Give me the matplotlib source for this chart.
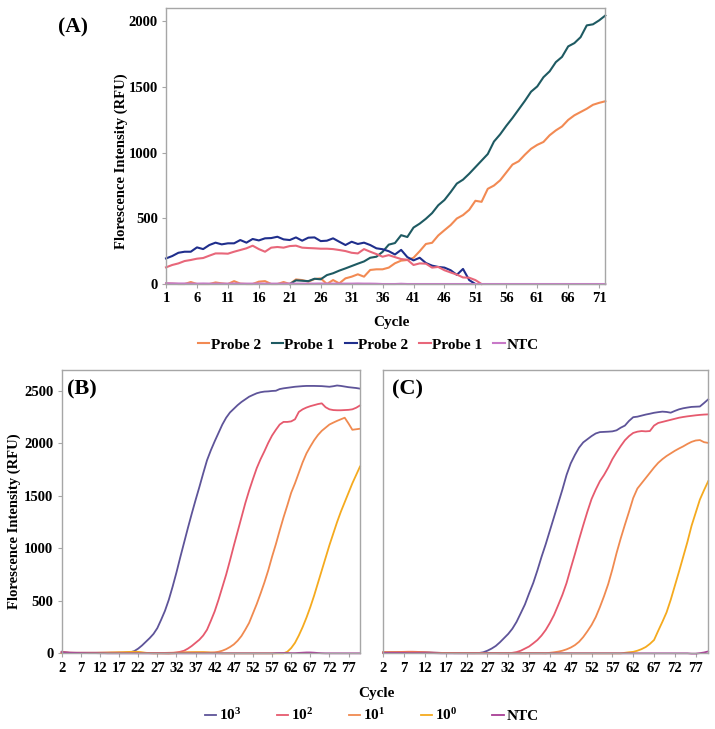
import matplotlib
matplotlib.use("Agg")
import matplotlib.pyplot as plt
import numpy as np

plt.rcParams['font.family'] = ['Liberation Serif', 'DejaVu Serif']
plt.rcParams['font.weight'] = 'bold'
plt.rcParams['mathtext.default'] = 'regular'

# ---------------- panel A data ----------------
cycles_a = np.arange(1, 73)
probe2_orange = [5, 3, 0, 0, 15, 0, 0, 0, 12, 5,
                 0, 22, 3, 0, 0, 18, 22, 0, 0, 15,
                 0, 35, 30, 18, 38, 43, 0, 30, 5, 43,
                 56, 74, 56, 107, 112, 112, 125, 158, 178, 183,
                 200, 250, 305, 314, 370, 410, 449, 499, 525, 565,
                 634, 626, 725, 750, 790, 850, 910, 935, 985, 1030,
                 1060, 1082, 1133, 1170, 1200, 1250, 1285, 1310, 1335, 1365,
                 1380, 1392]
cycles_teal = np.arange(21, 73)
probe1_teal = [0, 28, 25, 22, 40, 36, 68, 82, 102, 119,
               137, 155, 172, 200, 208, 245, 300, 312, 372, 358,
               430, 460, 497, 540, 600, 640, 700, 765, 795, 840,
               890, 940, 990, 1085, 1140, 1205, 1265, 1330, 1395, 1465,
               1505, 1575, 1620, 1690, 1730, 1810, 1835, 1880, 1970, 1978,
               2008, 2045]
cycles_navy = np.arange(1, 52)
probe2_navy = [195, 213, 238, 246, 246, 279, 266, 297, 315, 302,
               310, 310, 335, 315, 343, 332, 348, 350, 360, 340,
               335, 355, 330, 353, 355, 327, 330, 348, 322, 297,
               322, 305, 315, 297, 272, 265, 250, 225, 260, 205,
               180, 200, 160, 140, 130, 125, 105, 70, 115, 30,
               0]
cycles_salmon = np.arange(1, 53)
probe1_salmon = [127, 145, 157, 175, 183, 193, 198, 216, 233, 233,
                 231, 246, 259, 272, 292, 266, 246, 277, 282, 277,
                 289, 292, 277, 274, 272, 269, 269, 266, 259, 251,
                 238, 233, 266, 246, 228, 208, 220, 205, 190, 185,
                 145, 157, 155, 125, 130, 105, 88, 72, 50, 48,
                 30, 0]
ntc_a = [6, 5, 4, 4, 3, 3, 4, 3, 3, 3,
         3, 4, 3, 3, 3, 4, 3, 3, 3, 3,
         4, 3, 3, 3, 3, 4, 3, 3, 3, 3,
         3, 4, 3, 3, 2, 0, 0, 0, 2, 0,
         0, 0, 0, 0, 0, 0, 0, 0, 0, 0,
         0, 0, 0, 0, 0, 0, 0, 0, 0, 0,
         0, 0, 0, 0, 0, 0, 0, 0, 0, 0,
         0, 0]
labels_a = ['Probe 2', 'Probe 1', 'Probe 2', 'Probe 1', 'NTC']
xticks_a = np.arange(1, 72, 5)

# ---------------- panels B and C data (cycles 2..80) ----------------
cycles_bc = np.arange(2, 81)
b_1e3 = [15, 8, 5, 5, 5, 5, 5, 5, 5, 5,
         5, 5, 5, 5, 5, 5, 5, 6, 10, 22,
         45, 75, 110, 145, 185, 240, 320, 405, 510, 635,
         770, 915, 1055, 1195, 1330, 1460, 1585, 1715, 1840, 1935,
         2020, 2100, 2180, 2245, 2295, 2330, 2365, 2395, 2420, 2445,
         2462, 2478, 2488, 2494, 2496, 2500, 2502, 2518, 2525, 2530,
         2535, 2540, 2543, 2546, 2548, 2548, 2548, 2547, 2546, 2543,
         2540, 2545, 2552, 2548, 2542, 2536, 2532, 2528, 2522]
b_1e2 = [12, 8, 6, 5, 5, 5, 5, 5, 5, 5,
         5, 5, 5, 5, 5, 5, 5, 5, 5, 5,
         5, 4, 4, 3, 3, 3, 2, 1, 0, 3,
         8, 15, 25, 45, 70, 100, 130, 170, 225, 310,
         400, 510, 630, 750, 885, 1025, 1160, 1295, 1430, 1550,
         1660, 1765, 1850, 1925, 2005, 2075, 2130, 2180, 2205, 2205,
         2210, 2230, 2300, 2325, 2342, 2355, 2365, 2375, 2382, 2345,
         2325, 2318, 2316, 2316, 2318, 2320, 2325, 2340, 2362]
b_1e1 = [8, 6, 5, 5, 5, 5, 5, 5, 5, 5,
         5, 6, 6, 7, 7, 8, 8, 8, 8, 8,
         6, 4, 3, 2, 2, 2, 3, 4, 5, 6,
         7, 8, 9, 10, 10, 10, 10, 10, 9, 8,
         10, 15, 25, 40, 60, 85, 120, 165, 225, 290,
         380, 470, 570, 675, 790, 920, 1040, 1170, 1295, 1410,
         1530, 1620, 1720, 1820, 1905, 1970, 2030, 2080, 2120, 2150,
         2180, 2198, 2215, 2230, 2245, 2190, 2130, 2135, 2140]
b_1e0 = [5, 5, 4, 4, 4, 4, 4, 4, 4, 4,
         5, 5, 6, 7, 8, 9, 10, 12, 14, 15,
         14, 10, 5, 2, 0, 0, 0, 0, 0, 0,
         2, 4, 6, 8, 9, 10, 10, 10, 8, 6,
         4, 2, 0, 0, 0, 0, 0, 0, 0, 0,
         0, 0, 0, 0, 0, 0, 0, 0, 0, 15,
         50, 100, 170, 250, 340, 440, 550, 670, 790, 910,
         1030, 1140, 1250, 1350, 1440, 1530, 1620, 1700, 1780]
b_ntc = [10, 8, 6, 5, 4, 3, 3, 2, 2, 2,
         1, 1, 0, 0, 0, 0, 0, 0, 0, 0,
         0, 0, 0, 0, 0, 0, 0, 0, 0, 0,
         0, 0, 0, 0, 0, 0, 0, 0, 0, 0,
         0, 0, 0, 0, 0, 0, 0, 0, 0, 0,
         0, 0, 0, 0, 0, 0, 2, 3, 3, 3,
         2, 2, 4, 6, 8, 8, 6, 3, 1, 0,
         0, 0, 0, 0, 0, 0, 0, 0, 0]

c_1e3 = [10, 10, 10, 10, 10, 10, 10, 11, 11, 10,
         9, 8, 6, 5, 4, 3, 3, 2, 2, 2,
         2, 2, 2, 3, 10, 25, 45, 70, 105, 145,
         185, 235, 300, 382, 465, 570, 670, 790, 920, 1040,
         1170, 1300, 1430, 1560, 1700, 1810, 1890, 1960, 2010, 2040,
         2070, 2095, 2108, 2110, 2112, 2115, 2125, 2150, 2170, 2215,
         2250, 2255, 2265, 2275, 2283, 2292, 2298, 2303, 2300, 2293,
         2310, 2325, 2335, 2342, 2348, 2350, 2352, 2385, 2420]
c_1e2 = [10, 10, 11, 12, 13, 14, 15, 15, 14, 12,
         10, 8, 6, 5, 4, 3, 3, 2, 2, 2,
         2, 2, 2, 2, 2, 2, 2, 2, 1, 1,
         0, 5, 12, 25, 45, 65, 95, 127, 170, 223,
         290, 366, 460, 557, 670, 810, 945, 1085, 1220, 1350,
         1470, 1560, 1640, 1700, 1770, 1850, 1915, 1975, 2030, 2070,
         2100, 2112, 2118, 2115, 2118, 2170, 2195, 2205, 2215, 2225,
         2235, 2245, 2252, 2258, 2263, 2268, 2272, 2275, 2277]
c_1e1 = [8, 8, 7, 7, 7, 7, 7, 7, 6, 6,
         6, 5, 5, 4, 4, 3, 3, 3, 2, 2,
         2, 2, 2, 2, 2, 2, 2, 2, 2, 2,
         2, 2, 2, 1, 1, 1, 1, 1, 1, 0,
         5, 10, 16, 25, 38, 55, 78, 110, 155, 210,
         270, 345, 440, 545, 660, 800, 955, 1095, 1225, 1350,
         1480, 1570, 1620, 1670, 1720, 1770, 1815, 1850, 1880, 1905,
         1930, 1952, 1972, 1995, 2015, 2028, 2032, 2012, 2005]
c_1e0 = [6, 6, 6, 6, 6, 6, 6, 6, 6, 6,
         5, 5, 4, 4, 3, 3, 3, 2, 2, 2,
         2, 1, 1, 1, 1, 1, 1, 1, 1, 1,
         1, 1, 1, 1, 1, 1, 1, 1, 1, 1,
         1, 0, 0, 0, 0, 0, 0, 0, 0, 0,
         0, 0, 0, 0, 0, 0, 0, 0, 5, 10,
         14, 25, 40, 60, 90, 127, 215, 300, 390, 510,
         645, 780, 920, 1060, 1215, 1340, 1465, 1555, 1640]
c_ntc = [4, 4, 4, 4, 4, 4, 3, 3, 3, 3,
         3, 2, 2, 1, 0, 0, 0, 0, 0, 0,
         0, 0, 0, 0, 0, 0, 0, 0, 0, 0,
         0, 0, 0, 0, 0, 0, 0, 0, 0, 0,
         0, 0, 0, 0, 0, 0, 0, 0, 0, 0,
         0, 0, 0, 0, 0, 0, 0, 0, 0, 0,
         0, 0, 0, 0, 0, 0, 0, 0, 0, 0,
         0, 0, 0, 0, -3, -3, 2, 8, 18]
labels_bc = ['$10^{3}$', '$10^{2}$', '$10^{1}$', '$10^{0}$', 'NTC']
xticks_bc = np.arange(2, 78, 5)

colors_a = ['#F28A53', '#1E5A62', '#1F2E8C', '#E8677A', '#C879C8']
colors_bc = ['#5E5499', '#E65A6E', '#F08A50', '#F5AA1E', '#A83E95']
grey = '#a6a6a6'


def style_axes(ax):
    for s in ax.spines.values():
        s.set_color(grey)
        s.set_linewidth(1.0)
    ax.tick_params(direction='out', length=3, color=grey, labelsize=10.5,
                   width=0.8, pad=3)


fig = plt.figure(figsize=(7.15, 7.29), dpi=100)

# ---------------- panel A ----------------
axA = fig.add_axes([0.2322, 0.6104, 0.6144, 0.3782])
series_a = [(cycles_a, probe2_orange), (cycles_teal, probe1_teal),
            (cycles_navy, probe2_navy), (cycles_salmon, probe1_salmon),
            (cycles_a, ntc_a)]
for (x, y), c, lab in zip(series_a, colors_a, labels_a):
    axA.plot(x, y, color=c, lw=1.5, label=lab, clip_on=False)
axA.set_xlim(1, 72)
axA.set_ylim(0, 2100)
axA.set_xticks(xticks_a)
axA.set_yticks([0, 500, 1000, 1500, 2000])
style_axes(axA)
fig.text(0.102, 1 - 27 / 729, '(A)', fontsize=15.5, ha='center', va='center')
fig.text(121 / 715, 1 - 161 / 729, 'Florescence Intensity (RFU)', rotation=90,
         fontsize=10.5, ha='center', va='center')
fig.text(391 / 715, 1 - 322 / 729, 'Cycle', fontsize=11, ha='center', va='center')
h, l = axA.get_legend_handles_labels()
fig.legend(h, l, loc='center', bbox_to_anchor=(368 / 715, 1 - 345 / 729), ncol=5,
           frameon=False, fontsize=11, handlelength=0.75, handletextpad=0.1,
           columnspacing=0.7)

# ---------------- panels B and C ----------------
axB = fig.add_axes([0.0863, 0.1038, 0.4172, 0.3887])
axC = fig.add_axes([0.5360, 0.1038, 0.4545, 0.3887])
for ax, data in [(axB, [b_1e3, b_1e2, b_1e1, b_1e0, b_ntc]),
                 (axC, [c_1e3, c_1e2, c_1e1, c_1e0, c_ntc])]:
    for y, c, lab in zip(data, colors_bc, labels_bc):
        ax.plot(cycles_bc, y, color=c, lw=1.3, label=lab, clip_on=False)
    ax.set_xlim(2, 80)
    ax.set_ylim(0, 2700)
    ax.set_xticks(xticks_bc)
    ax.set_yticks([0, 500, 1000, 1500, 2000, 2500])
    style_axes(ax)
axC.tick_params(axis='y', length=0, labelleft=False)
axB.text(0.018, 0.965, '(B)', transform=axB.transAxes, fontsize=16,
         ha='left', va='top')
axC.text(0.026, 0.965, '(C)', transform=axC.transAxes, fontsize=16,
         ha='left', va='top')
fig.text(14 / 715, 1 - 521 / 729, 'Florescence Intensity (RFU)', rotation=90,
         fontsize=10.5, ha='center', va='center')
fig.text(376 / 715, 1 - 693 / 729, 'Cycle', fontsize=11, ha='center', va='center')
h, l = axB.get_legend_handles_labels()
fig.legend(h, l, loc='center', bbox_to_anchor=(372 / 715, 1 - 715 / 729), ncol=5,
           frameon=False, fontsize=11, handlelength=0.75, handletextpad=0.2,
           columnspacing=2.3)

fig.savefig('out.png', dpi=100)
